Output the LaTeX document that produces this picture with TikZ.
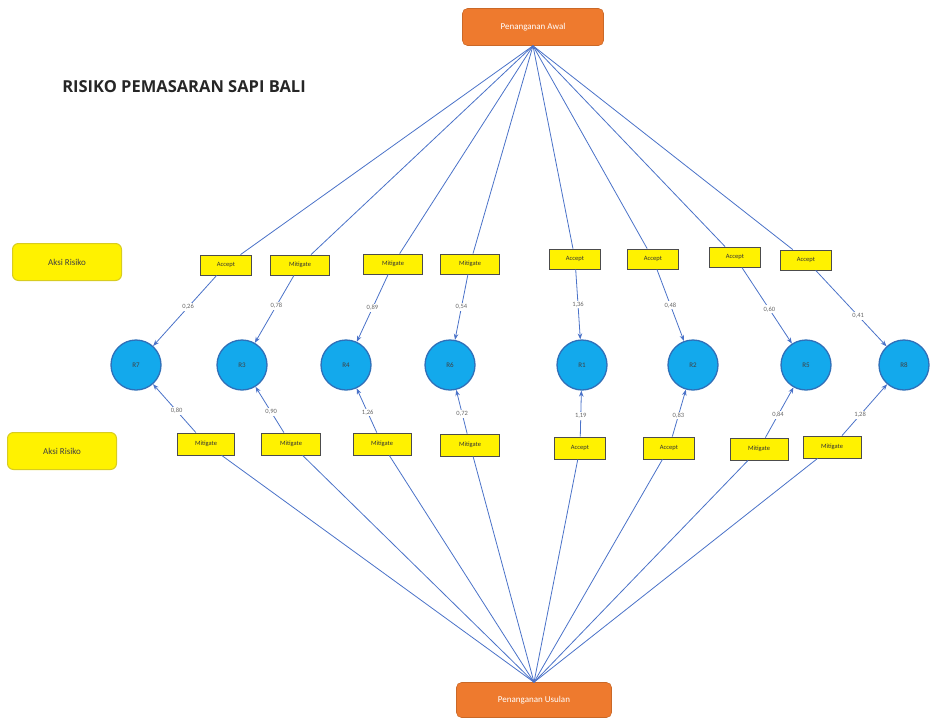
\documentclass[tikz,border=0pt]{standalone}
\usepackage{fontspec}
\setmainfont{Carlito}
\newfontfamily\titlefont{Open Sans}
\usetikzlibrary{arrows.meta}
\definecolor{lineblue}{HTML}{4A72C8}
\definecolor{orangebox}{HTML}{EE7A2E}
\definecolor{circfill}{HTML}{13A9EC}
\definecolor{circdraw}{HTML}{2F6FB8}
\definecolor{aksiborder}{HTML}{D8CC20}
\begin{document}
\begin{tikzpicture}[x=1pt,y=-1pt,
  headbox/.style={draw=orangebox!85!black, line width=0.6pt, fill=orangebox, rounded corners=5pt, minimum width=141pt, minimum height=37pt, text=white, font=\fontsize{9}{10}\selectfont, inner sep=0pt},
  aksibox/.style={draw=aksiborder, line width=1pt, fill=yellow, rounded corners=6pt, minimum width=109pt, minimum height=37pt, font=\fontsize{9}{10}\selectfont, text=black!75, inner sep=0pt},
  actbox/.style={draw=black!70, line width=0.8pt, fill=yellow, minimum height=20pt, font=\fontsize{6.5}{7}\selectfont, text=black!80, inner sep=0pt},
  accbox/.style={actbox, minimum width=51pt},
  mitbox/.style={actbox, minimum width=59pt},
  risk/.style={circle, draw=circdraw, line width=1.3pt, fill=circfill, minimum size=50pt, inner sep=0pt, font=\fontsize{7}{8}\selectfont, text=black!75},
  conn/.style={draw=lineblue, line width=0.8pt},
  arr/.style={conn, -{Stealth[length=6pt,width=4.5pt]}},
  val/.style={fill=white, inner sep=1.2pt, font=\fontsize{6.5}{7}\selectfont, text=black!60}
]
\path[use as bounding box] (0,0) rectangle (934,720);

\node[headbox] (top) at (533,27) {Penanganan Awal};
\node[headbox, minimum width=155pt, minimum height=35pt] (bot) at (534,700) {Penanganan Usulan};

\node[font=\titlefont\bfseries\fontsize{16.5}{18}\selectfont, text=black!85] (title) at (184,87) {RISIKO PEMASARAN SAPI BALI};

\node[aksibox] (aksiA) at (67,262) {Aksi Risiko};
\node[aksibox] (aksiB) at (62,451) {Aksi Risiko};

% risk circles
\node[risk] (r7) at (136,365) {R7};
\node[risk] (r3) at (242,365) {R3};
\node[risk] (r4) at (346,365) {R4};
\node[risk] (r6) at (450,365) {R6};
\node[risk] (r1) at (582,365) {R1};
\node[risk] (r2) at (693,365) {R2};
\node[risk] (r5) at (806,365) {R5};
\node[risk] (r8) at (904,365) {R8};

% top action boxes
\node[accbox] (t1) at (226,265) {Accept};
\node[mitbox] (t2) at (300,265) {Mitigate};
\node[mitbox] (t3) at (393,264) {Mitigate};
\node[mitbox] (t4) at (470,264) {Mitigate};
\node[accbox] (t5) at (575,259) {Accept};
\node[accbox] (t6) at (653,259) {Accept};
\node[accbox] (t7) at (735,257) {Accept};
\node[accbox] (t8) at (806,260) {Accept};

% bottom action boxes
\node[mitbox, minimum width=57pt, minimum height=22pt] (b1) at (206,444) {Mitigate};
\node[mitbox, minimum height=22pt] (b2) at (291,444) {Mitigate};
\node[mitbox, minimum width=58pt, minimum height=22pt] (b3) at (382,444) {Mitigate};
\node[mitbox, minimum height=22pt] (b4) at (470,445) {Mitigate};
\node[accbox, minimum height=22pt] (b5) at (580,448) {Accept};
\node[accbox, minimum height=22pt] (b6) at (669,448) {Accept};
\node[mitbox, minimum width=58pt, minimum height=22pt] (b7) at (759,449) {Mitigate};
\node[mitbox, minimum width=58pt, minimum height=22pt] (b8) at (832,447) {Mitigate};

% lines from top node
\foreach \b in {t1,t2,t3,t4,t5,t6,t7,t8} {
  \draw[conn] (top.south) -- (\b);
}
% lines to bottom node
\foreach \b in {b1,b2,b3,b4,b5,b6,b7,b8} {
  \draw[conn] (bot.north) -- (\b);
}

% top arrows with values
\draw[arr] (t1) -- node[val, pos=0.45] {0,26} (r7);
\draw[arr] (t2) -- node[val, pos=0.45] {0,78} (r3);
\draw[arr] (t3) -- node[val, pos=0.5] {0,89} (r4);
\draw[arr] (t4) -- node[val, pos=0.5] {0,54} (r6);
\draw[arr] (t5) -- node[val, pos=0.5] {1,36} (r1);
\draw[arr] (t6) -- node[val, pos=0.5] {0,48} (r2);
\draw[arr] (t7) -- node[val, pos=0.55] {0,60} (r5);
\draw[arr] (t8) -- node[val, pos=0.6] {0,41} (r8);

% bottom arrows with values
\draw[arr] (b1) -- node[val, pos=0.45] {0,80} (r7);
\draw[arr] (b2) -- node[val, pos=0.45] {0,90} (r3);
\draw[arr] (b3) -- node[val, pos=0.45] {1,26} (r4);
\draw[arr] (b4) -- node[val, pos=0.45] {0,72} (r6);
\draw[arr] (b5) -- node[val, pos=0.45] {1,19} (r1);
\draw[arr] (b6) -- node[val, pos=0.45] {0,83} (r2);
\draw[arr] (b7) -- node[val, pos=0.45] {0,84} (r5);
\draw[arr] (b8) -- node[val, pos=0.4] {1,28} (r8);
\end{tikzpicture}
\end{document}
